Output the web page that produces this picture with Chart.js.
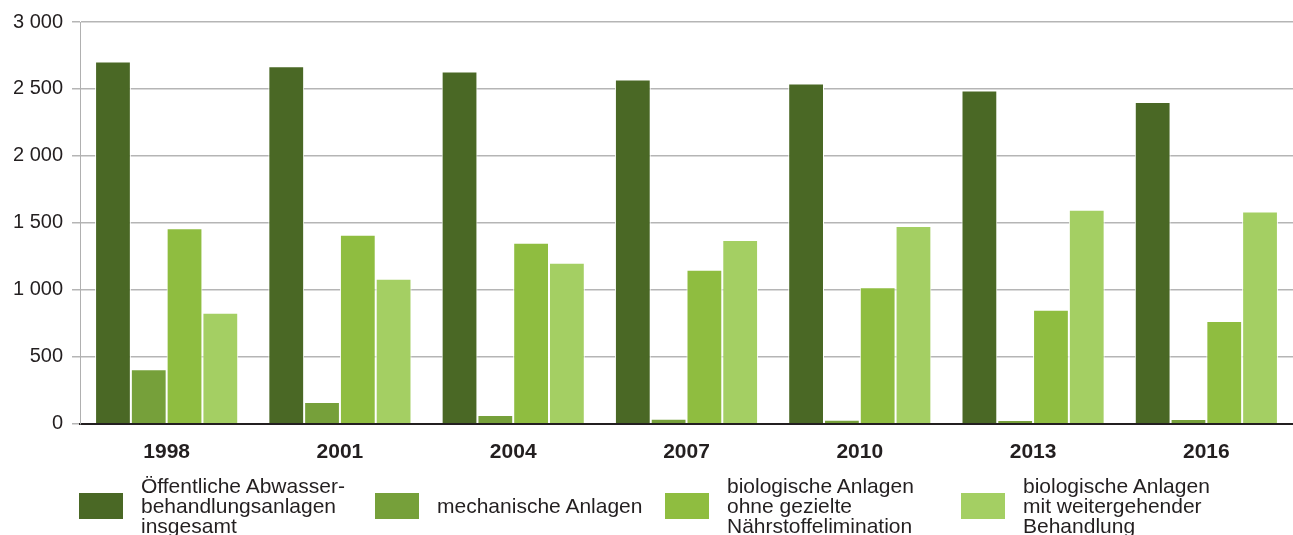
<!DOCTYPE html>
<html lang="de">
<head>
<meta charset="utf-8">
<title>Abwasserbehandlungsanlagen</title>
<script src="https://cdn.jsdelivr.net/npm/chart.js@4"></script>
<style>
    html, body { margin: 0; padding: 0; background: #fff; }
    #wrap { position: relative; width: 1293px; height: 535px; overflow: hidden; }
    #chart { position: absolute; left: 0; top: 0; }
    .legend-item { position: absolute; top: 476px; height: 60px; display: flex; align-items: center; }
    .legend-box { width: 44px; height: 26px; flex: none; }
    .legend-text { margin-left: 18px; font-family: "Liberation Sans", Arial, sans-serif; font-size: 21px; line-height: 20px; color: #231f20; white-space: nowrap; }
</style>
</head>
<body>
<div id="wrap">
    <canvas id="chart" width="1293" height="535"></canvas>
    <div id="legend"></div>
</div>
<script>
// Daten (Anzahl Anlagen)
const years = ['1998', '2001', '2004', '2007', '2010', '2013', '2016'];
const insgesamt = [2706, 2669, 2631, 2571, 2541, 2489, 2402];
const mechanisch = [407, 163, 65, 37, 30, 28, 35];
const ohneElimination = [1460, 1412, 1352, 1150, 1020, 851, 768];
const weitergehend = [830, 1083, 1202, 1372, 1477, 1599, 1586];

const seriesLabels = [
    ['Öffentliche Abwasser-', 'behandlungsanlagen', 'insgesamt'],
    ['mechanische Anlagen'],
    ['biologische Anlagen', 'ohne gezielte', 'Nährstoffelimination'],
    ['biologische Anlagen', 'mit weitergehender', 'Behandlung']
];
const seriesColors = ['#4a6825', '#76a03a', '#8fbd40', '#a4cf63'];
const legendLeft = [79, 375, 665, 961];

const yTicks = [0, 500, 1000, 1500, 2000, 2500, 3000];

document.addEventListener('DOMContentLoaded', function() {
    const seriesValues = [insgesamt, mechanisch, ohneElimination, weitergehend];

    const datasets = seriesValues.map(function(values, i) {
        return {
            label: seriesLabels[i].join(' '),
            data: values,
            backgroundColor: seriesColors[i],
            borderColor: '#ffffff',
            borderWidth: 1,
            borderSkipped: 'bottom',
            categoryPercentage: 0.826,
            barPercentage: 1.0
        };
    });

    function formatNumber(v) {
        return String(v).replace(/\B(?=(\d{3})+(?!\d))/g, ' ');
    }

    new Chart(document.getElementById('chart'), {
        type: 'bar',
        data: {
            labels: years,
            datasets: datasets
        },
        options: {
            responsive: false,
            animation: false,
            devicePixelRatio: 1,
            layout: {
                padding: { top: 22, right: 0, bottom: 54, left: 0 }
            },
            plugins: {
                legend: { display: false },
                tooltip: { enabled: false }
            },
            scales: {
                x: {
                    grid: { display: false, drawTicks: false },
                    border: { display: true, color: '#231f20', width: 2 },
                    ticks: {
                        color: '#231f20',
                        padding: 16,
                        font: { family: '"Liberation Sans", Arial, sans-serif', size: 21, weight: 'bold' }
                    }
                },
                y: {
                    min: 0,
                    max: 3000,
                    afterFit: function(scale) { scale.width = 80; },
                    afterBuildTicks: function(scale) {
                        scale.ticks = yTicks.map(v => ({ value: v }));
                    },
                    grid: { color: '#b5b5b5', lineWidth: 1.5, tickLength: 8 },
                    border: { display: true, color: '#b0b0b0', width: 1 },
                    ticks: {
                        color: '#231f20',
                        padding: 9,
                        font: { family: '"Liberation Sans", Arial, sans-serif', size: 20 },
                        callback: function(value) { return formatNumber(value); }
                    }
                }
            }
        }
    });

    // Legende unter dem Diagramm
    const legend = document.getElementById('legend');
    seriesLabels.forEach(function(lines, i) {
        const item = document.createElement('div');
        item.className = 'legend-item';
        item.style.left = legendLeft[i] + 'px';
        const box = document.createElement('div');
        box.className = 'legend-box';
        box.style.background = seriesColors[i];
        const text = document.createElement('div');
        text.className = 'legend-text';
        text.innerHTML = lines.join('<br>');
        item.appendChild(box);
        item.appendChild(text);
        legend.appendChild(item);
    });
});
</script>
</body>
</html>
